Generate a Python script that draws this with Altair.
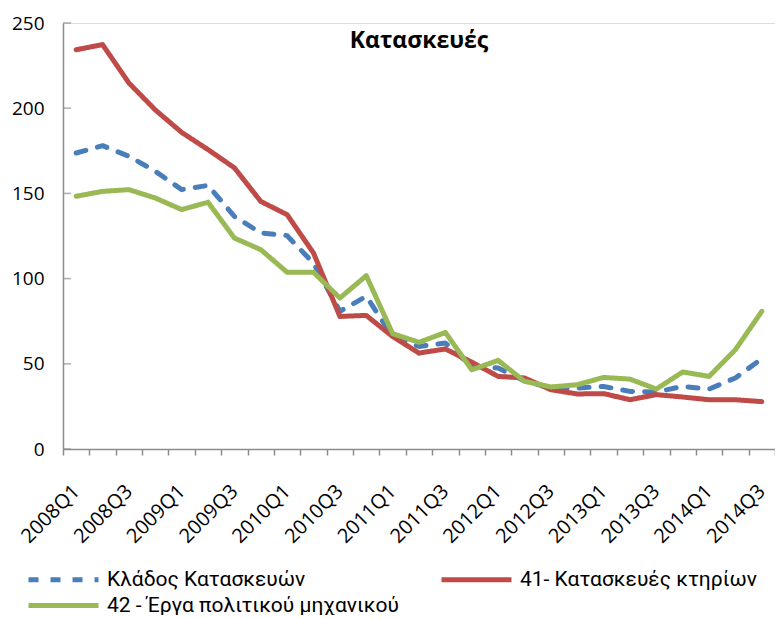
import json
import altair as alt
import pandas as pd

quarters = [
    "2008Q1", "2008Q2", "2008Q3", "2008Q4",
    "2009Q1", "2009Q2", "2009Q3", "2009Q4",
    "2010Q1", "2010Q2", "2010Q3", "2010Q4",
    "2011Q1", "2011Q2", "2011Q3", "2011Q4",
    "2012Q1", "2012Q2", "2012Q3", "2012Q4",
    "2013Q1", "2013Q2", "2013Q3", "2013Q4",
    "2014Q1", "2014Q2", "2014Q3",
]
series_names = [
    "Κλάδος Κατασκευών",
    "41- Κατασκευές κτηρίων",
    "42 - Έργα πολιτικού μηχανικού",
]
klados = [173.7, 178.0, 171.8, 163.0, 152.2, 154.7, 136.5, 126.8, 125.2, 109.0,
          80.8, 89.6, 66.0, 60.2, 62.2, 48.5, 47.5, 40.0, 35.8, 35.8,
          36.7, 33.8, 33.5, 36.7, 35.2, 41.7, 53.0]
ktiria = [234.3, 237.3, 214.8, 199.0, 185.8, 175.7, 165.0, 145.3, 137.5, 115.0,
          77.8, 78.4, 66.0, 56.3, 58.7, 51.0, 42.6, 41.7, 34.8, 32.3,
          32.5, 28.9, 31.9, 30.5, 28.9, 28.9, 27.8]
erga = [148.3, 151.2, 152.2, 147.3, 140.5, 144.8, 123.8, 117.0, 103.7, 103.7,
        88.6, 101.7, 67.7, 62.6, 68.4, 46.5, 52.0, 39.7, 36.4, 37.7,
        42.0, 41.0, 35.2, 45.2, 42.6, 58.3, 80.8]
colors = ["#4A7EBB", "#BE4B48", "#98B954"]
dashes = [[10, 12], [1, 0], [1, 0]]
y_ticks = [0, 50, 100, 150, 200, 250]

rows = []
for name, vals in zip(series_names, [klados, ktiria, erga]):
    for i, (q, v) in enumerate(zip(quarters, vals)):
        rows.append({"idx": i, "quarter": q, "series": name, "value": v})
df = pd.DataFrame(rows)

gray = "#8C8C8C"
axis_font = "Open Sans"
x_tick_values = [i - 0.5 for i in range(len(quarters) + 1)]
label_expr = ("(datum.value + 0.5) % 2 == 0 ? "
              + json.dumps(quarters) + "[datum.value + 0.5] : ''")

legend = alt.Legend(
    title=None, orient="none", legendX=-11, legendY=545, columns=2,
    direction="horizontal",
    columnPadding=32, rowPadding=4, symbolType="M-4,0H4", symbolSize=306,
    symbolStrokeWidth=5, symbolFillColor="transparent",
    labelFont="Roboto", labelFontSize=21,
    labelColor="#000000", labelOffset=32, padding=0, labelLimit=500,
)

x_enc = alt.X(
    "idx:Q",
    scale=alt.Scale(domain=[-0.5, len(quarters) - 0.5], nice=False, zero=False),
    axis=alt.Axis(
        values=x_tick_values, labelExpr=label_expr, labelAngle=-45,
        labelAlign="right", labelBaseline="middle", labelOffset=13,
        labelPadding=33, tickSize=6, tickColor=gray, tickWidth=1.5,
        domainColor=gray, domainWidth=1.5, labelFont=axis_font,
        labelFontSize=20, labelColor="#000000", title=None, grid=False,
        labelOverlap=False, labelFlush=False,
    ),
)
y_axis = alt.Axis(
    values=y_ticks, tickSize=0, labelPadding=19, domainColor=gray,
    domainWidth=1.5, labelFont=axis_font, labelFontSize=19,
    labelColor="#000000", title=None, grid=False,
)
y_scale = alt.Scale(domain=[0, 250], nice=False)
y_enc = alt.Y("value:Q", scale=y_scale, axis=y_axis)
color_enc = alt.Color("series:N", scale=alt.Scale(domain=series_names, range=colors),
                      legend=legend)
dash_enc = alt.StrokeDash("series:N", scale=alt.Scale(domain=series_names, range=dashes),
                          legend=legend)

layers = []
for name in series_names:
    layers.append(
        alt.Chart(df).transform_filter(alt.datum.series == name)
        .mark_line(strokeWidth=5, strokeCap="round", strokeJoin="round")
        .encode(x=x_enc, y=y_enc, color=color_enc, strokeDash=dash_enc)
    )

tick_df = pd.DataFrame({"value": y_ticks})
ticks = alt.Chart(tick_df).mark_tick(color=gray, thickness=1.5, size=8, orient="horizontal").encode(
    y=alt.Y("value:Q", scale=y_scale, axis=y_axis), x=alt.value(4)
)

chart = alt.layer(*layers, ticks).properties(
    width=712, height=426,
    title=alt.TitleParams("Κατασκευές", font=axis_font, fontSize=23, fontWeight="bold",
                          anchor="middle", color="#000000", offset=-39),
    autosize=alt.AutoSizeParams(type="none"),
    padding={"left": 55, "top": 15, "right": 0, "bottom": 166},
).configure_view(stroke=None).configure(background="white")

chart.save("out.html", embed_options={"renderer": "svg", "actions": False})
